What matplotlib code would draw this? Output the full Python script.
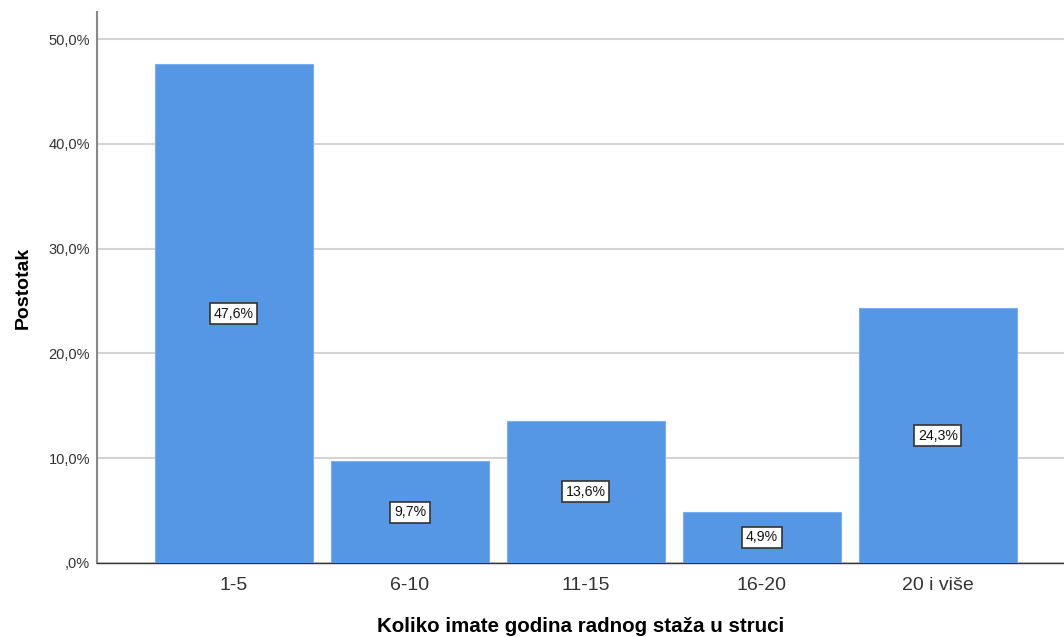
import matplotlib
matplotlib.use("Agg")
import matplotlib.pyplot as plt

categories = ["1-5", "6-10", "11-15", "16-20", "20 i više"]
values = [47.6, 9.7, 13.6, 4.9, 24.3]
yticks = [0, 10, 20, 30, 40, 50]
ytick_labels = [",0%", "10,0%", "20,0%", "30,0%", "40,0%", "50,0%"]

plt.rcParams['font.family'] = ['Liberation Sans', 'DejaVu Sans']

fig = plt.figure(figsize=(10.64, 6.37), dpi=100)
ax = fig.add_axes([97/1064, 1-563/637, 1-97/1064, (563-12)/637])

x = list(range(len(categories)))
ax.bar(x, values, width=0.898, color="#5596e5", edgecolor="#7aaeee", linewidth=0.8, zorder=3)

for xi, v in zip(x, values):
    ax.text(xi, v/2, f"{v:.1f}%".replace(".", ","), ha="center", va="center", fontsize=10.2,
            color="#111111", zorder=4,
            bbox=dict(boxstyle="square,pad=0.25", facecolor="white", edgecolor="#333333", linewidth=1.2))

ax.set_xlim(-0.778, 4.716)
ax.set_ylim(0, 52.6)
ax.set_yticks(yticks)
ax.set_yticklabels(ytick_labels, fontsize=10.5, color="#333333")
ax.set_xticks(x)
ax.set_xticklabels(categories, fontsize=14, color="#333333")
ax.tick_params(axis="both", length=0)
ax.tick_params(axis="x", pad=10)
ax.tick_params(axis="y", pad=5)

ax.yaxis.grid(True, color="#d4d4d4", linewidth=1.5, zorder=0)
ax.set_axisbelow(True)
for s in ["top", "right"]:
    ax.spines[s].set_visible(False)
ax.spines["left"].set_color("#888888")
ax.spines["left"].set_linewidth(1.5)
ax.spines["bottom"].set_color("#333333")
ax.spines["bottom"].set_linewidth(1)

ax.set_xlabel("Koliko imate godina radnog staža u struci", fontsize=14.8, fontweight="bold", labelpad=17)
ax.set_ylabel("Postotak", fontsize=14, fontweight="bold", labelpad=12)

fig.savefig("out.png", dpi=100)
